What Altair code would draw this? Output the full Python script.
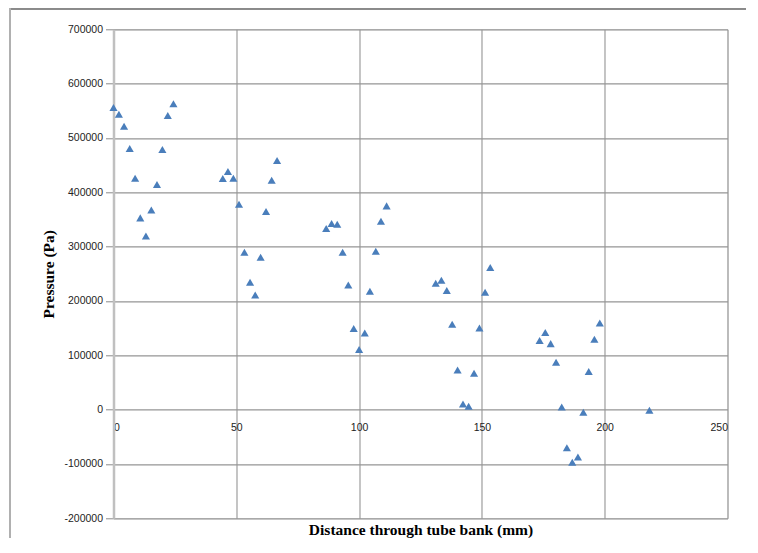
import altair as alt
import pandas as pd

distance_mm = [0.0, 2.2, 4.3, 6.6, 8.8, 10.9, 13.2, 15.4, 17.7, 19.9, 22.1, 24.4,
               44.5, 46.6, 48.8, 51.1, 53.3, 55.6, 57.7, 59.9, 62.1, 64.4, 66.6,
               86.6, 88.8, 91.1, 93.3, 95.6, 97.8, 100.0, 102.3, 104.4, 106.8, 108.9, 111.2,
               131.2, 133.5, 135.7, 137.9, 140.1, 142.3, 144.6, 146.8, 149.0, 151.3, 153.4,
               173.5, 175.8, 178.0, 180.2, 182.5, 184.6, 186.8, 189.1, 191.3, 193.5, 195.8, 198.0,
               218.2]
pressure_pa = [556000, 543800, 521700, 480600, 426000, 352900, 319700, 367600, 414400, 478800, 541400, 562800,
               425400, 438300, 426000, 378100, 289700, 234400, 211000, 280500, 364600, 422300, 458600,
               333300, 342500, 341300, 289700, 229500, 149200, 110500, 141100, 217900, 291500, 346800, 375000,
               232600, 238100, 219100, 157100, 72900, 10300, 6100, 66800, 150300, 216000, 261500,
               127100, 141800, 121500, 87100, 4800, -70000, -97000, -87300, -5000, 70000, 129500, 159500,
               -1300]

x_ticks = [0, 50, 100, 150, 200, 250]
y_ticks = [-200000, -100000, 0, 100000, 200000, 300000, 400000, 500000, 600000, 700000]

df = pd.DataFrame({"distance": distance_mm, "pressure": pressure_pa})

W, H = 614, 489
zero_y = H * 7 / 9

points = alt.Chart(df).mark_point(
    shape="triangle-up", filled=True, color="#4a7ebb", opacity=1, size=66
).encode(
    x=alt.X("distance:Q",
            scale=alt.Scale(domain=[0, 250], nice=False, zero=False),
            axis=alt.Axis(values=x_ticks, title="Distance through tube bank (mm)",
                          offset=-(H - zero_y), domain=False, ticks=False,
                          labelPadding=13, labelFont="Liberation Sans", labelFontSize=10.5,
                          labelColor="#222222", labelExpr="datum.value + ''",
                          grid=True, gridColor="#8a8a8a", gridWidth=1,
                          titleFont="Liberation Serif", titleFontSize=15.5,
                          titleFontWeight="bold", titleColor="#000000",
                          titleY=125, titleBaseline="alphabetic")),
    y=alt.Y("pressure:Q",
            scale=alt.Scale(domain=[-200000, 700000], nice=False, zero=False),
            axis=alt.Axis(values=y_ticks, title="Pressure (Pa)",
                          domain=True, domainColor="#c0c0c0", domainWidth=2.5,
                          ticks=True, tickSize=8, tickColor="#8a8a8a",
                          labelPadding=3, labelFont="Liberation Sans", labelFontSize=10.5,
                          labelColor="#222222", labelExpr="datum.value + ''",
                          grid=True, gridColor="#959595", gridWidth=1.2,
                          titleFont="Liberation Serif", titleFontSize=15.5,
                          titleFontWeight="bold", titleColor="#000000",
                          titlePadding=7)),
)

frame_top = alt.Chart(df).mark_rule(color="#8a8a8a", strokeWidth=1.2).encode(
    x=alt.value(-103.5), x2=alt.value(700), y=alt.value(-20.6)
)
frame_left = alt.Chart(df).mark_rule(color="#b0b0b0", strokeWidth=1.5).encode(
    x=alt.value(-103.5), y=alt.value(-20.6), y2=alt.value(700)
)

chart = alt.layer(frame_top, frame_left, points).properties(
    width=W, height=H,
    autosize=alt.AutoSizeParams(type="none"),
    padding={"left": 105.5, "top": 21.3, "right": 18, "bottom": 20},
).configure_view(stroke=None).configure(background="white")

chart.save("out.html", embed_options={"renderer": "svg", "actions": False})
